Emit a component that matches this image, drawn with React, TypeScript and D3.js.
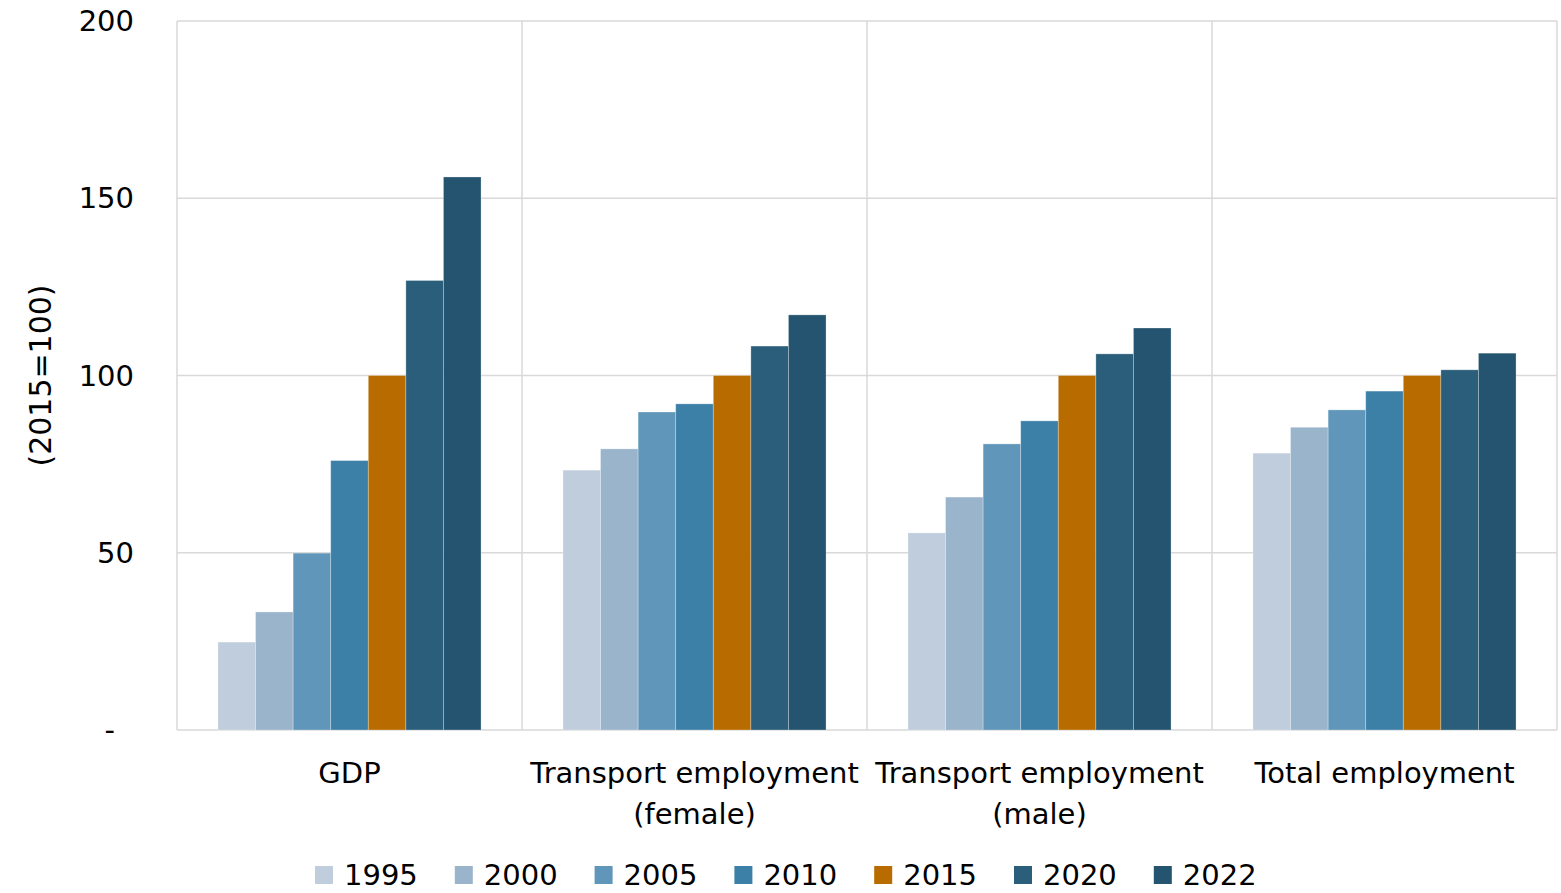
import * as d3 from 'd3';

const categories = ['GDP', 'Transport employment (female)', 'Transport employment (male)', 'Total employment'];
const categoryLines = [['GDP'], ['Transport employment', '(female)'], ['Transport employment', '(male)'], ['Total employment']];
const years = ['1995', '2000', '2005', '2010', '2015', '2020', '2022'];
const colors = ['#bfcddc', '#9ab4cb', '#5f96b9', '#3d80a7', '#b86c00', '#2a5e7b', '#24546f'];

const gdp = [24.8, 33.3, 49.9, 76.0, 100, 126.8, 156.0];
const female = [73.3, 79.3, 89.7, 92.0, 100, 108.3, 117.1];
const male = [55.6, 65.7, 80.7, 87.2, 100, 106.1, 113.4];
const total = [78.1, 85.4, 90.3, 95.6, 100, 101.6, 106.3];
const seriesByCategory = [gdp, female, male, total];

const yTicks = [0, 50, 100, 150, 200];

const width = 1561;
const height = 893;
const marginLeft = 177;
const marginRight = 4;
const marginTop = 21;
const marginBottom = 163;
const font = '"DejaVu Sans", sans-serif';

const App = () => {
  const x0 = d3.scaleBand().domain(categories).range([marginLeft, width - marginRight]).paddingInner(0).paddingOuter(0);
  const x1 = d3.scaleBand().domain(years).range([0, x0.bandwidth()]).paddingInner(0).paddingOuter(1.09);
  const y = d3.scaleLinear().domain([0, 200]).range([height - marginBottom, marginTop]);

  const legendStart = 315;
  const legendStep = 139.8;

  return (
    <svg width={width} height={height} style={{ position: 'absolute', left: 0, top: 0, background: '#fff' }}>
      {/* gridlines */}
      {yTicks.map(t => (
        <line key={t} x1={marginLeft} x2={width - marginRight} y1={y(t)} y2={y(t)} stroke="#d9d9d9" strokeWidth={1.5} />
      ))}
      <line x1={marginLeft} x2={marginLeft} y1={y(200)} y2={y(0)} stroke="#d9d9d9" strokeWidth={1.5} />
      {categories.map(c => (
        <line key={c} x1={(x0(c) ?? 0) + x0.bandwidth()} x2={(x0(c) ?? 0) + x0.bandwidth()} y1={y(200)} y2={y(0)} stroke="#d9d9d9" strokeWidth={1.5} />
      ))}

      {/* bars */}
      {categories.map((c, ci) => (
        <g key={c} transform={`translate(${x0(c)},0)`}>
          {years.map((yr, i) => (
            <rect key={yr} x={x1(yr)} width={x1.bandwidth()} y={y(seriesByCategory[ci][i])}
              height={y(0) - y(seriesByCategory[ci][i])} fill={colors[i]} stroke="#ffffff" strokeOpacity={0.35} strokeWidth={0.8} />
          ))}
        </g>
      ))}

      {/* y ticks */}
      {yTicks.map(t => (
        <text key={t} x={t === 0 ? 115 : 134} y={y(t)} dy="0.35em" textAnchor="end" fontFamily={font} fontSize={29} fill="#000">
          {t === 0 ? '-' : t}
        </text>
      ))}
      <text transform={`translate(40,${y(100)}) rotate(-90)`} textAnchor="middle" dy="0.35em" fontFamily={font} fontSize={30} fill="#000">
        (2015=100)
      </text>

      {/* category labels */}
      {categories.map((c, ci) => (
        <text key={c} x={(x0(c) ?? 0) + x0.bandwidth() / 2} y={773} textAnchor="middle" fontFamily={font} fontSize={29} fill="#000">
          {categoryLines[ci].map((l, li) => (
            <tspan key={li} x={(x0(c) ?? 0) + x0.bandwidth() / 2} dy={li === 0 ? '0.35em' : 41}>{l}</tspan>
          ))}
        </text>
      ))}

      {/* legend */}
      {years.map((yr, i) => (
        <g key={yr} transform={`translate(${legendStart + i * legendStep},866)`}>
          <rect width={18} height={18} fill={colors[i]} />
          <text x={29} y={9} dy="0.36em" fontFamily={font} fontSize={29} fill="#000">{yr}</text>
        </g>
      ))}
    </svg>
  );
};

export default App;
